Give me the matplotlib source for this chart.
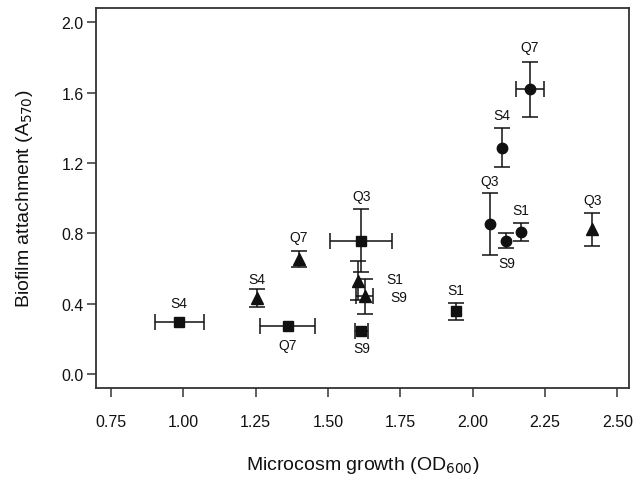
import matplotlib
matplotlib.use("Agg")
import matplotlib.pyplot as plt
import numpy as np

plt.rcParams["font.family"] = ["Liberation Sans", "DejaVu Sans"]

# squares
sq_labels = ["S4", "Q7", "Q3", "S9", "S1"]
sq_x = [0.986, 1.361, 1.615, 1.616, 1.943]
sq_y = [0.297, 0.273, 0.758, 0.246, 0.357]
sq_xerr = [0.085, 0.096, 0.107, 0.024, 0.0]
sq_yerr = [0.0, 0.0, 0.18, 0.0, 0.048]

# triangles
tri_labels = ["S4", "Q7", "S1", "S9", "Q3"]
tri_x = [1.255, 1.399, 1.604, 1.627, 2.413]
tri_y = [0.432, 0.655, 0.53, 0.442, 0.822]
tri_xerr = [0.0, 0.0, 0.0, 0.03, 0.0]
tri_yerr = [0.05, 0.046, 0.11, 0.10, 0.092]

# circles
circ_labels = ["Q7", "S4", "Q3", "S1", "S9"]
circ_x = [2.197, 2.102, 2.059, 2.166, 2.117]
circ_y = [1.62, 1.288, 0.853, 0.806, 0.758]
circ_xerr = [0.048, 0.0, 0.0, 0.0, 0.0]
circ_yerr = [0.158, 0.109, 0.175, 0.052, 0.044]

# label offsets in pixels (dx, dy)
sq_off = [(0, 19), (0, -19), (0, 45), (0, -17), (0, 21)]
tri_off = [(0, 19), (0, 22), (28, 2), (26, -1), (0, 29)]
circ_off = [(0, 42), (0, 33), (0, 43), (0, 22), (0, -22)]

fig = plt.figure(figsize=(6.34, 4.89), dpi=100)
ax = fig.add_axes([0.152, 0.2045, 0.84, 0.778])

ink = "#111111"
px = 0.72


def draw_series(labels, xs, ys, xerrs, yerrs, offs, marker, ms):
    for lab, x, y, xe, ye, (dx, dy) in zip(labels, xs, ys, xerrs, yerrs, offs):
        ax.errorbar(x, y, xerr=xe if xe > 0 else None, yerr=ye if ye > 0 else None,
                    fmt=marker, ms=ms, color=ink, ecolor=ink, elinewidth=1.1,
                    capsize=6, capthick=1.1, zorder=3)
        ha = "left" if dx > 5 else "center"
        ax.annotate(lab, (x, y), xytext=(dx * px, dy * px), textcoords="offset points",
                    ha=ha, va="center", fontsize=10, color=ink)


draw_series(sq_labels, sq_x, sq_y, sq_xerr, sq_yerr, sq_off, "s", 6.5)
draw_series(tri_labels, tri_x, tri_y, tri_xerr, tri_yerr, tri_off, "^", 8)
draw_series(circ_labels, circ_x, circ_y, circ_xerr, circ_yerr, circ_off, "o", 7.5)

ax.set_xlim(0.70, 2.54)
ax.set_ylim(-0.08, 2.085)
ax.set_xticks([0.75, 1.00, 1.25, 1.50, 1.75, 2.00, 2.25, 2.50])
ax.set_yticks([0.0, 0.4, 0.8, 1.2, 1.6, 2.0])
ax.xaxis.set_major_formatter(matplotlib.ticker.FormatStrFormatter("%.2f"))
ax.yaxis.set_major_formatter(matplotlib.ticker.FormatStrFormatter("%.1f"))
ax.tick_params(axis="both", direction="out", length=6.5, width=1.1, color="#333333",
               labelsize=11.5, labelcolor=ink)
ax.tick_params(axis="x", pad=12)
ax.tick_params(axis="y", pad=2.5)
for sp in ax.spines.values():
    sp.set_linewidth(1.3)
    sp.set_color("#333333")

ax.set_xlabel("Microcosm growth (OD$_{600}$)", fontsize=14, color=ink, labelpad=18)
ax.set_ylabel("Biofilm attachment (A$_{570}$)", fontsize=14, color=ink, labelpad=19)

fig.savefig("out.png", dpi=100)
